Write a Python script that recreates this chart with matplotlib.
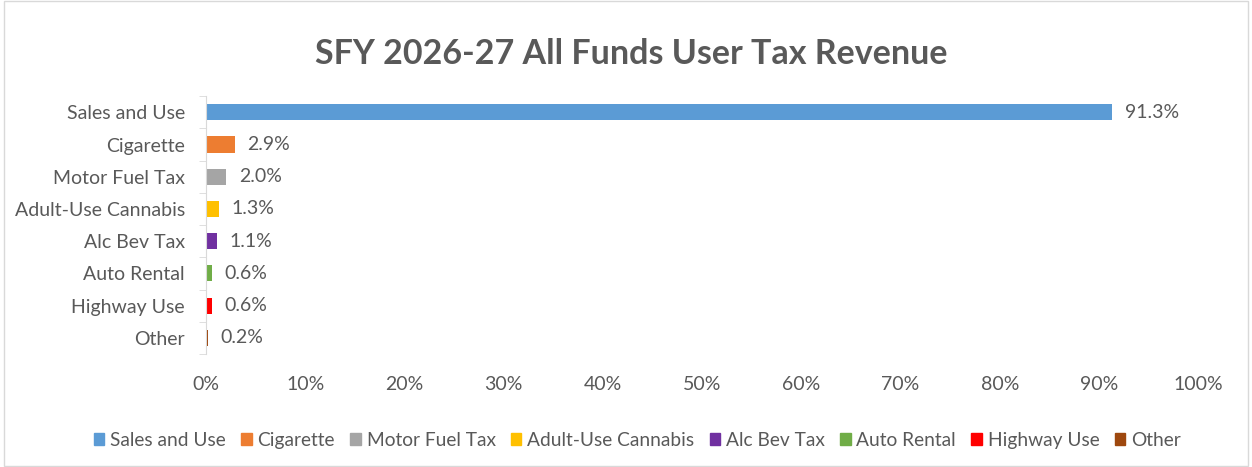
import matplotlib.pyplot as plt
from matplotlib.patches import Patch
from matplotlib.ticker import MultipleLocator, FuncFormatter

categories = ["Sales and Use", "Cigarette", "Motor Fuel Tax", "Adult-Use Cannabis",
              "Alc Bev Tax", "Auto Rental", "Highway Use", "Other"]
shares = [91.3, 2.9, 2.0, 1.3, 1.1, 0.6, 0.6, 0.2]
colors = ["#5B9BD5", "#ED7D31", "#A5A5A5", "#FFC000", "#7030A0", "#70AD47", "#FF0000", "#9E480E"]

plt.rcParams['font.family'] = ['Lato', 'DejaVu Sans']
txt = "#595959"

fig = plt.figure(figsize=(12.52, 4.67), dpi=100)
ax = fig.add_axes([0.1645, 0.242, 0.7925, 0.552])

pos = list(range(len(categories)))
ax.barh(pos, shares, height=0.5, color=colors)
for p, v in zip(pos, shares):
    ax.text(v + 1.3, p, f"{v:.1f}%", va='center', ha='left', fontsize=14, color=txt)

ax.set_ylim(len(categories) - 0.5, -0.5)
ax.set_xlim(0, 100)
ax.set_yticks(pos)
ax.set_yticklabels(categories, fontsize=14, color=txt)
ax.set_yticks([p - 0.5 for p in pos] + [len(categories) - 0.5], minor=True)
ax.tick_params(axis='y', which='major', length=0, pad=15)
ax.tick_params(axis='y', which='minor', length=5, color="#D9D9D9", direction='out')
ax.xaxis.set_major_locator(MultipleLocator(10))
ax.xaxis.set_major_formatter(FuncFormatter(lambda x, _: f"{x:.0f}%"))
ax.tick_params(axis='x', length=0, labelsize=14, labelcolor=txt, pad=16)
for s in ['top', 'right', 'bottom']:
    ax.spines[s].set_visible(False)
ax.spines['left'].set_color("#D9D9D9")

fig.text(0.504, 0.885, "SFY 2026-27 All Funds User Tax Revenue", ha='center', va='center',
         fontsize=24.5, fontweight='bold', color=txt)

handles = [Patch(color=c, label=l) for c, l in zip(colors, categories)]
fig.legend(handles=handles, loc='center', bbox_to_anchor=(0.509, 0.057), ncol=8, frameon=False,
           fontsize=13.8, handlelength=0.55, handleheight=0.55, handletextpad=0.3, columnspacing=0.8,
           labelcolor=txt)

fig.add_artist(plt.Rectangle((0.003, 0.003), 0.994, 0.994, transform=fig.transFigure,
                             fill=False, edgecolor="#D9D9D9", linewidth=1))

fig.savefig("out.png", dpi=100)
